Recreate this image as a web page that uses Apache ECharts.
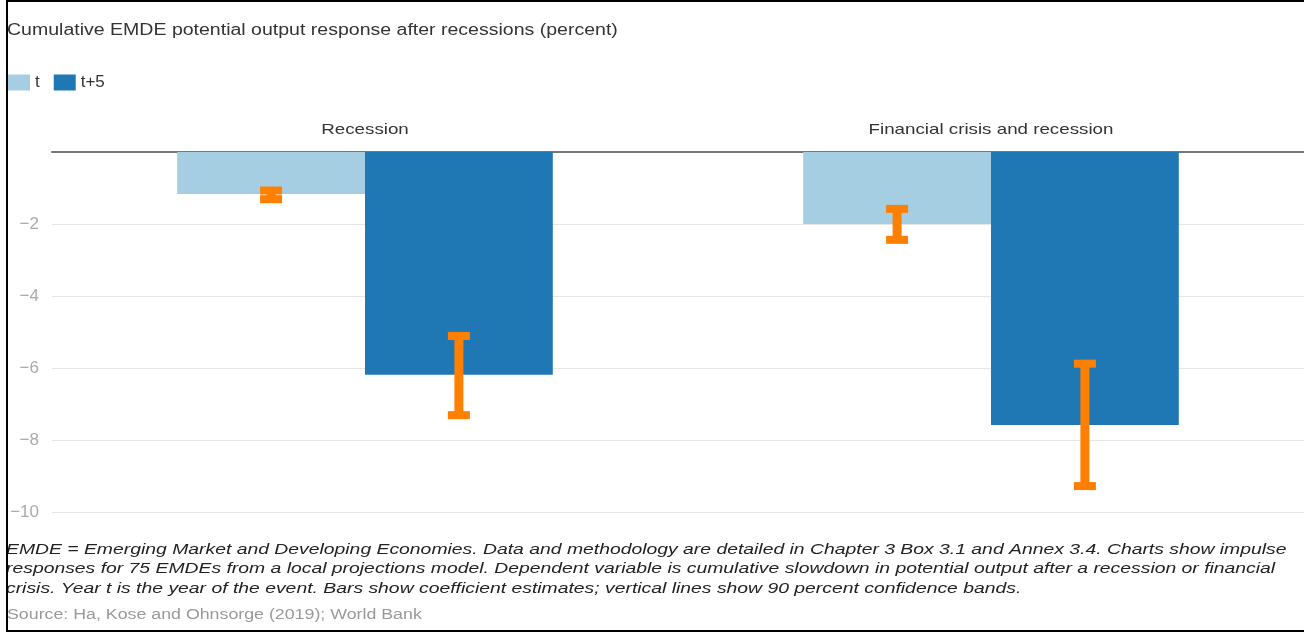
<!DOCTYPE html>
<html>
<head>
<meta charset="utf-8">
<script src="https://cdn.jsdelivr.net/npm/echarts@6/dist/echarts.min.js"></script>
<style>
html,body{margin:0;padding:0;background:#fff;}
#chart{width:1304px;height:633px;}
</style>
</head>
<body>
<div id="chart"></div>
<script>
// ---- data ----
const categories = ['Recession', 'Financial crisis and recession'];
const seriesNames = ['t', 't+5'];
const tValues = [-1.17, -2.0];
const t5Values = [-6.19, -7.58];
const tLow = [-1.31, -2.44];
const tHigh = [-1.07, -1.58];
const t5Low = [-7.31, -9.28];
const t5High = [-5.11, -5.88];
const yMin = -10, yMax = 0, yInterval = 2;

const titleText = 'Cumulative EMDE potential output response after recessions (percent)';
const noteLines = [
  'EMDE = Emerging Market and Developing Economies. Data and methodology are detailed in Chapter 3 Box 3.1 and Annex 3.4. Charts show impulse',
  'responses for 75 EMDEs from a local projections model. Dependent variable is cumulative slowdown in potential output after a recession or financial',
  'crisis. Year t is the year of the event. Bars show coefficient estimates; vertical lines show 90 percent confidence bands.'
];
const sourceText = 'Source: Ha, Kose and Ohnsorge (2019); World Bank';

const colors = { t: '#a6cee3', t5: '#1f78b4', err: '#ff7f00' };
const FONT = 'Liberation Sans, Arial, sans-serif';

function errorSeries(lows, highs, offsetFrac) {
  return {
    type: 'custom',
    silent: true,
    z: 5,
    data: categories.map((c, i) => [i, lows[i], highs[i]]),
    encode: { x: 0, y: [1, 2] },
    renderItem: function (params, api) {
      const band = api.size([1, 0])[0];
      const lo = api.coord([api.value(0), api.value(1)]);
      const hi = api.coord([api.value(0), api.value(2)]);
      const cx = lo[0] + offsetFrac * band;
      const lw = 9, cw = 22, ch = 8;
      const style = { fill: colors.err };
      return {
        type: 'group',
        children: [
          { type: 'rect', shape: { x: cx - lw / 2, y: hi[1], width: lw, height: lo[1] - hi[1] }, style: style },
          { type: 'rect', shape: { x: cx - cw / 2, y: hi[1] - ch / 2, width: cw, height: ch }, style: style },
          { type: 'rect', shape: { x: cx - cw / 2, y: lo[1] - ch / 2, width: cw, height: ch }, style: style }
        ]
      };
    }
  };
}

const chart = echarts.init(document.getElementById('chart'), null, { renderer: 'canvas' });
chart.setOption({
  animation: false,
  backgroundColor: '#fff',
  textStyle: { fontFamily: FONT },
  legend: {
    data: seriesNames,
    left: 3, top: 69,
    padding: 5,
    icon: 'rect',
    itemWidth: 22, itemHeight: 16, itemGap: 14,
    textStyle: { fontSize: 17, color: '#333', fontFamily: FONT }
  },
  grid: { left: 52, right: 0, top: 152, bottom: 121, containLabel: false },
  xAxis: {
    type: 'category',
    data: categories,
    position: 'top',
    axisLine: { show: true, lineStyle: { color: '#777', width: 2 } },
    axisTick: { show: false },
    axisLabel: { show: false },
    splitLine: { show: false }
  },
  yAxis: {
    type: 'value',
    min: yMin, max: yMax, interval: yInterval,
    axisLine: { show: false },
    axisTick: { show: false },
    axisLabel: {
      margin: 13, fontSize: 17, color: '#aaa', fontFamily: FONT,
      formatter: v => v === 0 ? '' : String(v).replace('-', '\u2212')
    },
    splitLine: { show: true, lineStyle: { color: '#e6e6e6', width: 1 } }
  },
  series: [
    { name: 't', type: 'bar', data: tValues, itemStyle: { color: colors.t }, barGap: '0%', barCategoryGap: '40%' },
    { name: 't+5', type: 'bar', data: t5Values, itemStyle: { color: colors.t5 }, barGap: '0%', barCategoryGap: '40%' },
    errorSeries(tLow, tHigh, -0.15),
    errorSeries(t5Low, t5High, 0.15)
  ]
});

// facet titles at the category centres, from the axis scale
const facetGraphics = categories.map((c, i) => {
  const px = chart.convertToPixel({ xAxisIndex: 0 }, i);
  return {
    type: 'text', x: px, y: 130, scaleX: 1.25,
    style: { text: c, font: '15px ' + FONT, fill: '#333', align: 'center', verticalAlign: 'middle' }
  };
});

chart.setOption({
  graphic: facetGraphics.concat([
    {
      type: 'text', x: 7, y: 31, scaleX: 1.22,
      style: { text: titleText, font: '16px ' + FONT, fill: '#333', verticalAlign: 'middle' }
    },
    {
      type: 'text', x: 6, y: 540, scaleX: 1.29,
      style: { text: noteLines.join('\n'), font: 'italic 15px ' + FONT, fill: '#222', lineHeight: 19.5, verticalAlign: 'top' }
    },
    {
      type: 'text', x: 7, y: 615, scaleX: 1.27,
      style: { text: sourceText, font: '14px ' + FONT, fill: '#999', verticalAlign: 'middle' }
    },
    {
      type: 'rect', silent: true, z: 100,
      shape: { x: 7, y: 1, width: 1310, height: 630 },
      style: { fill: 'none', stroke: '#000', lineWidth: 2 }
    }
  ])
});
</script>
</body>
</html>
